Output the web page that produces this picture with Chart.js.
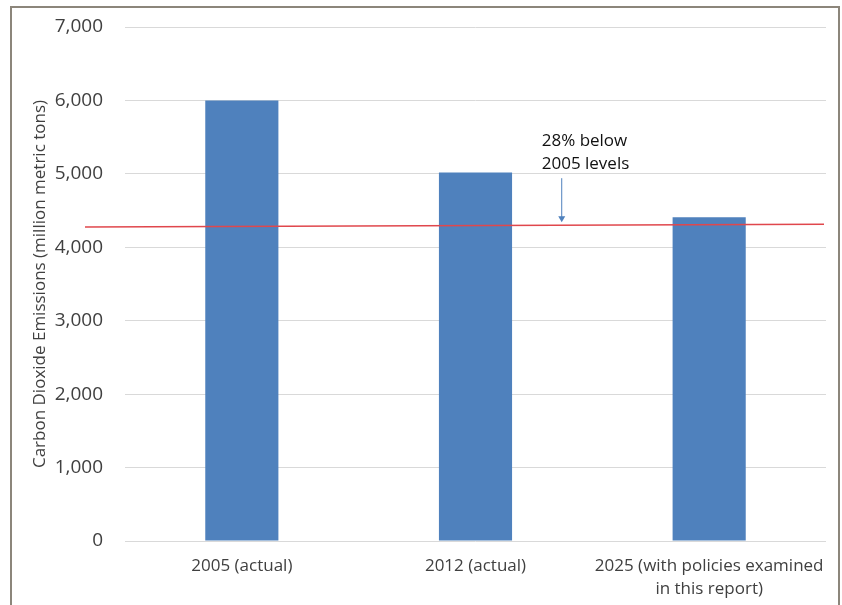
<!DOCTYPE html>
<html>
<head>
<meta charset="utf-8">
<script src="https://cdn.jsdelivr.net/npm/chart.js@4/dist/chart.umd.min.js"></script>
<style>
  html, body { margin: 0; padding: 0; background: #fff; }
  body { width: 842px; height: 605px; position: relative; overflow: hidden; }
  #frame { position: absolute; left: 10px; top: 6px; width: 826px; height: 700px;
           border: 2px solid #8c867b; border-bottom: none; }
  #wrap { position: absolute; left: 0; top: 0; width: 842px; height: 605px; }
</style>
</head>
<body>
<div id="frame"></div>
<div id="wrap"><canvas id="myChart" width="842" height="605"></canvas></div>
<script>
// data
const categories = ['2005 (actual)', '2012 (actual)', ['2025 (with policies examined', 'in this report)']];
const emissions = [6000, 5020, 4410];
const yTicks = [0, 1000, 2000, 3000, 4000, 5000, 6000, 7000];
const targetLine = [4275, 4315]; // red reference line, left end / right end
const noteLines = ['28% below', '2005 levels'];

const FONT = "'Open Sans', 'Liberation Sans', sans-serif";

// draws the red target line and the annotation arrow
const overlay = {
  id: 'overlay',
  afterDatasetsDraw(chart) {
    const ctx = chart.ctx;
    const area = chart.chartArea;
    const y = chart.scales.y;
    const x = chart.scales.x;

    const yL = y.getPixelForValue(targetLine[0]);
    const yR = y.getPixelForValue(targetLine[1]);
    ctx.save();
    ctx.strokeStyle = '#e0474c';
    ctx.lineWidth = 1.5;
    ctx.beginPath();
    ctx.moveTo(area.left - 40, yL);
    ctx.lineTo(area.right - 2, yR);
    ctx.stroke();

    // arrow between 2012 and 2025
    const step = x.getPixelForValue(2) - x.getPixelForValue(1);
    const ax = x.getPixelForValue(1) + step * 0.369;
    const tip = yL + (yR - yL) * (ax - area.left + 40) / (area.right - area.left + 38) - 3;
    ctx.strokeStyle = '#4f81bd';
    ctx.fillStyle = '#4f81bd';
    ctx.lineWidth = 1;
    ctx.beginPath();
    ctx.moveTo(ax, tip - 44);
    ctx.lineTo(ax, tip - 4);
    ctx.stroke();
    ctx.beginPath();
    ctx.moveTo(ax - 3.5, tip - 6);
    ctx.lineTo(ax + 3.5, tip - 6);
    ctx.lineTo(ax, tip);
    ctx.closePath();
    ctx.fill();

    ctx.fillStyle = '#111';
    ctx.font = '17px ' + FONT;
    ctx.textAlign = 'left';
    ctx.textBaseline = 'middle';
    ctx.fillText(noteLines[0], ax - 20, tip - 81);
    ctx.fillText(noteLines[1], ax - 20, tip - 58);
    ctx.restore();
  }
};

const ctx = document.getElementById('myChart');
const myChart = new Chart(ctx, {
  type: 'bar',
  data: {
    labels: categories,
    datasets: [{
      data: emissions,
      backgroundColor: '#4f81bd',
      borderWidth: 0,
      barPercentage: 0.313,
      categoryPercentage: 1
    }]
  },
  options: {
    responsive: false,
    animation: false,
    layout: { padding: { left: 0, right: 16, top: 27, bottom: 0 } },
    plugins: {
      legend: { display: false },
      tooltip: { enabled: false }
    },
    scales: {
      x: {
        grid: { display: false },
        border: { display: false },
        ticks: {
          color: '#404040',
          font: { family: FONT, size: 17, lineHeight: 1.35 },
          padding: 6,
          maxRotation: 0,
          autoSkip: false
        },
        afterFit(scale) {
          scale.height = 64;
          scale.paddingLeft = 0;
          scale.paddingRight = 0;
        }
      },
      y: {
        min: 0,
        max: 7000,
        afterBuildTicks(scale) { scale.ticks = yTicks.map(v => ({ value: v })); },
        grid: { color: '#d9d9d9', lineWidth: 1, drawTicks: false },
        border: { display: false },
        ticks: {
          color: '#404040',
          font: { family: FONT, size: 19 },
          padding: 22,
          callback: v => v.toLocaleString('en-US')
        },
        title: {
          display: true,
          text: 'Carbon Dioxide Emissions (million metric tons)',
          color: '#404040',
          font: { family: FONT, size: 17 },
          padding: { top: 30, bottom: 0 }
        },
        afterFit(scale) {
          scale.width = 125;
          scale.paddingTop = 0;
          scale.paddingBottom = 0;
        }
      }
    }
  },
  plugins: [overlay]
});
</script>
</body>
</html>
